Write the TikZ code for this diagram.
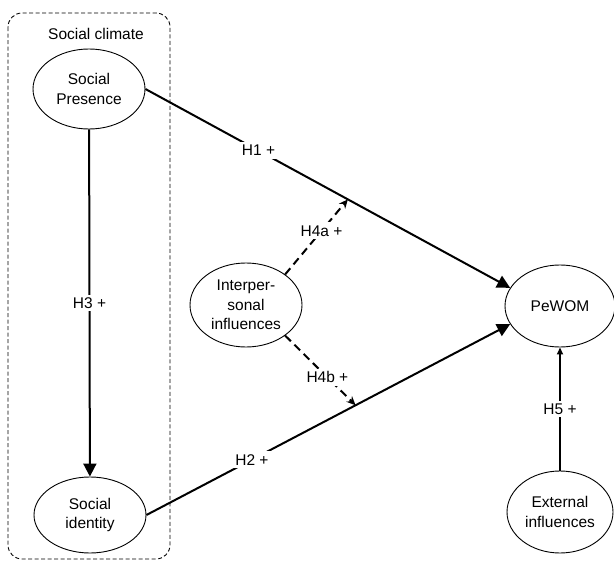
\documentclass[tikz,border=0pt]{standalone}
\usepackage{fontspec}
\setmainfont{Liberation Sans}
\usetikzlibrary{shapes.geometric,arrows.meta}

\tikzset{
  construct/.style = {ellipse, draw, line width=0.9pt, inner sep=0pt,
    minimum width=112pt, minimum height=80pt, align=center,
    font=\fontsize{15.5}{19.5}\selectfont},
  effect/.style = {line width=2pt, -{Triangle[length=13pt,width=13pt]}},
  moderation/.style = {line width=2pt, dash pattern=on 8pt off 5pt,
    -{Stealth[length=9pt,width=8pt]}},
  hyplabel/.style = {fill=white, inner sep=3pt, font=\fontsize{15.5}{18}\selectfont}
}

\begin{document}
\begin{tikzpicture}[x=1pt,y=-1pt]
\useasboundingbox (0,0) rectangle (614,562);

% Create social climate frame
\draw[line width=0.9pt, dash pattern=on 4pt off 2.5pt, rounded corners=14pt]
  (8,13) rectangle (170,559);
\node[font=\fontsize{15.5}{18}\selectfont] (climate) at (96,34) {Social climate};

% Create constructs
\node[construct] (sp) at (89,89) {Social\\Presence};
\node[construct, minimum height=76pt] (si) at (90,515) {Social\\identity};
\node[construct, minimum height=84pt] (ip) at (246,305) {Interper-\\sonal\\influences};
\node[construct, minimum width=110pt, minimum height=82pt] (pw) at (560,306) {PeWOM};
\node[construct, minimum width=106pt, minimum height=82pt] (ext) at (560,512) {External\\influences};

% Direct effects
\draw[effect] (sp.east) -- node[hyplabel, pos=0.31] {H1 +}
  coordinate[pos=0.555] (h1p) (pw.160);
\draw[effect] (si.east) -- node[hyplabel, pos=0.29] {H2 +}
  coordinate[pos=0.575] (h2p) (pw.200);
\draw[effect] (sp) -- node[hyplabel] {H3 +} (si);
\draw[line width=2pt, -{Triangle[length=7pt,width=6pt]}] (ext) -- node[hyplabel] {H5 +} (pw);

% Moderating effects
\draw[moderation] (ip.38) -- node[hyplabel, pos=0.58] {H4a +} (h1p);
\draw[moderation] (ip.-38) -- node[hyplabel, pos=0.6] {H4b +} (h2p);

\end{tikzpicture}
\end{document}
